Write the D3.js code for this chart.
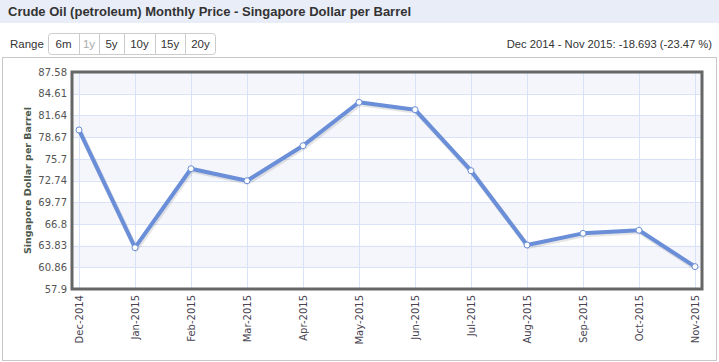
<html>
<head>
<meta charset="utf-8">
<script src="https://d3js.org/d3.v7.min.js"></script>
<style>
  body { margin: 0; background: #fff; }
  svg { display: block; }
</style>
</head>
<body>
<script>
// data
var months = ["Dec-2014", "Jan-2015", "Feb-2015", "Mar-2015", "Apr-2015", "May-2015",
              "Jun-2015", "Jul-2015", "Aug-2015", "Sep-2015", "Oct-2015", "Nov-2015"];
var prices = [79.65, 63.55, 74.35, 72.71, 77.50, 83.44, 82.43, 74.08, 63.92, 65.51, 65.93, 60.96];
var yTicks = [57.9, 60.868, 63.836, 66.804, 69.772, 72.74, 75.708, 78.676, 81.644, 84.612, 87.58];
var yTickLabels = ["57.9", "60.86", "63.83", "66.8", "69.77", "72.74", "75.7", "78.67", "81.64", "84.61", "87.58"];
var ranges = ["6m", "1y", "5y", "10y", "15y", "20y"];

var width = 719, height = 362;
var plot = { left: 72, top: 72, right: 702, bottom: 289 };

var svg = d3.select("body").append("svg")
    .attr("width", width)
    .attr("height", height);

// *** header
svg.append("rect").attr("x", 0).attr("y", 0).attr("width", width).attr("height", 23)
    .attr("fill", "#e9edf8");
svg.append("text").attr("x", 8).attr("y", 16)
    .attr("font-family", "Liberation Sans, Arial, sans-serif")
    .attr("font-size", "13px").attr("font-weight", "bold").attr("fill", "#333")
    .text("Crude Oil (petroleum) Monthly Price - Singapore Dollar per Barrel");

// *** range buttons
svg.append("text").attr("x", 10).attr("y", 48)
    .attr("font-family", "Liberation Sans, Arial, sans-serif")
    .attr("font-size", "11.5px").attr("fill", "#333").text("Range");

var btnW = [31, 20, 25, 31, 30, 31];
var bx = 48;
svg.append("rect").attr("x", 48.5).attr("y", 33.5).attr("width", 167).attr("height", 21)
    .attr("rx", 3).attr("fill", "#fff").attr("stroke", "#ccc");
var btns = svg.append("g");
ranges.forEach(function(r, i) {
    if (i > 0) {
        btns.append("line").attr("x1", bx + 0.5).attr("x2", bx + 0.5)
            .attr("y1", 34).attr("y2", 54).attr("stroke", "#ccc");
    }
    btns.append("text").attr("x", bx + btnW[i] / 2).attr("y", 48)
        .attr("text-anchor", "middle")
        .attr("font-family", "Liberation Sans, Arial, sans-serif")
        .attr("font-size", "11.5px")
        .attr("fill", r == "1y" ? "#aaa" : "#333")
        .text(r);
    bx += btnW[i];
});

svg.append("text").attr("x", 712).attr("y", 48).attr("text-anchor", "end")
    .attr("font-family", "Liberation Sans, Arial, sans-serif")
    .attr("font-size", "11.2px").attr("fill", "#333")
    .text("Dec 2014 - Nov 2015: -18.693 (-23.47 %)");

// *** outer box
svg.append("rect").attr("x", 2.5).attr("y", 57.5).attr("width", 714).attr("height", 303)
    .attr("fill", "none").attr("stroke", "#c8c8c8");

// *** scales
var x = d3.scalePoint().domain(months).range([79, 695]);
var y = d3.scaleLinear().domain([57.9, 87.58]).range([plot.bottom, plot.top]);

// bands
var bands = svg.append("g");
for (var i = 0; i < yTicks.length - 1; i++) {
    if ((yTicks.length - 2 - i) % 2 == 0) {
        bands.append("rect")
            .attr("x", plot.left).attr("width", plot.right - plot.left)
            .attr("y", y(yTicks[i + 1])).attr("height", y(yTicks[i]) - y(yTicks[i + 1]))
            .attr("fill", "#f4f6fb");
    }
}

// grid
var grid = svg.append("g").attr("stroke", "#d9e2f6").attr("stroke-width", 1);
grid.selectAll(".h").data(yTicks).enter().append("line")
    .attr("x1", plot.left).attr("x2", plot.right)
    .attr("y1", function(d){ return Math.round(y(d)) + 0.5; })
    .attr("y2", function(d){ return Math.round(y(d)) + 0.5; });
grid.selectAll(".v").data(months).enter().append("line")
    .attr("y1", plot.top).attr("y2", plot.bottom)
    .attr("x1", function(d){ return Math.round(x(d)) + 0.5; })
    .attr("x2", function(d){ return Math.round(x(d)) + 0.5; });

// y axis labels
var yAxis = d3.axisLeft(y).tickValues(yTicks).tickSize(0).tickPadding(5)
    .tickFormat(function(d, i){ return yTickLabels[i]; });
var yg = svg.append("g").attr("transform", "translate(" + plot.left + ",0)").call(yAxis);
yg.select(".domain").remove();
yg.selectAll("text").attr("font-family", "DejaVu Sans, Verdana, sans-serif")
    .attr("font-size", "10px").attr("fill", "#555");

// x axis labels
var xAxis = d3.axisBottom(x).tickSize(0).tickPadding(0);
var xg = svg.append("g").attr("transform", "translate(0," + plot.bottom + ")").call(xAxis);
xg.select(".domain").remove();
xg.selectAll("text")
    .attr("font-family", "DejaVu Sans, Verdana, sans-serif")
    .attr("font-size", "10px").attr("fill", "#4a4452")
    .attr("transform", "rotate(-90)")
    .attr("text-anchor", "end")
    .attr("x", -6).attr("y", 0).attr("dy", "0.35em");

// y title
svg.append("text")
    .attr("transform", "translate(31," + ((plot.top + plot.bottom) / 2) + ") rotate(-90)")
    .attr("text-anchor", "middle")
    .attr("font-family", "DejaVu Sans, Verdana, sans-serif")
    .attr("font-size", "9.5px").attr("font-weight", "bold").attr("fill", "#4d5a4d")
    .text("Singapore Dollar per Barrel");

// *** line
var line = d3.line()
    .x(function(d, i){ return x(months[i]); })
    .y(function(d){ return y(d); });

svg.append("path").datum(prices)
    .attr("d", line)
    .attr("transform", "translate(1,1.5)")
    .attr("fill", "none").attr("stroke", "#000").attr("stroke-opacity", 0.1)
    .attr("stroke-width", 5).attr("stroke-linejoin", "round");
svg.append("path").datum(prices)
    .attr("d", line)
    .attr("fill", "none").attr("stroke", "#6a8fd8")
    .attr("stroke-width", 4).attr("stroke-linejoin", "round");

svg.append("g").selectAll("circle").data(prices).enter().append("circle")
    .attr("cx", function(d, i){ return x(months[i]); })
    .attr("cy", function(d){ return y(d); })
    .attr("r", 3)
    .attr("fill", "#fff").attr("stroke", "#6a8fd8").attr("stroke-width", 1);

// plot frame
svg.append("rect")
    .attr("x", plot.left).attr("y", plot.top)
    .attr("width", plot.right - plot.left).attr("height", plot.bottom - plot.top)
    .attr("fill", "none").attr("stroke", "#666").attr("stroke-width", 3);
</script>
</body>
</html>
